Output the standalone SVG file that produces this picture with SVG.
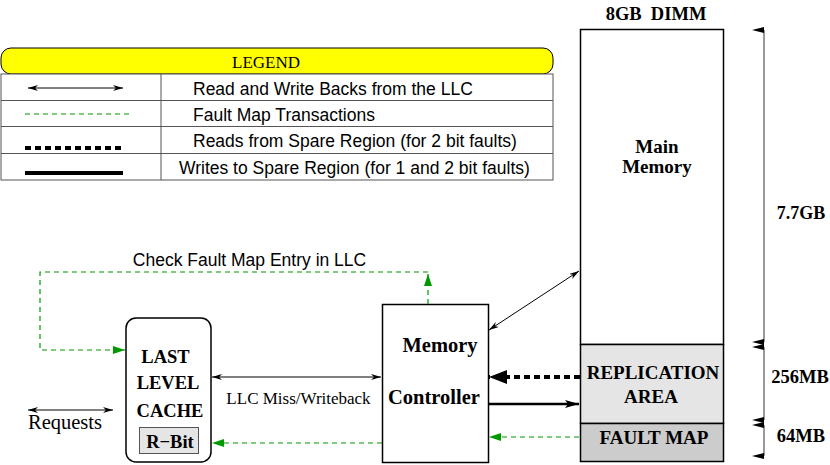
<svg xmlns="http://www.w3.org/2000/svg" width="830" height="465" viewBox="0 0 830 465">
<style>
.ss{font-family:"Liberation Sans",Arial,sans-serif;font-size:17.5px;fill:#000}
.sb{font-family:"Liberation Serif","Times New Roman",serif;font-weight:bold;fill:#000}
.sr{font-family:"Liberation Serif","Times New Roman",serif;fill:#000}
.box{fill:#fff;stroke:#000;stroke-width:1.5}
.thin{stroke:#000;stroke-width:1;fill:none}
.green{stroke:#009900;stroke-width:1.2;stroke-dasharray:5 4;fill:none}
.gray{stroke:#999;stroke-width:2;fill:none}
</style>
<defs>
<marker id="ah" viewBox="0 0 10 6" refX="10" refY="3" markerWidth="10" markerHeight="6" markerUnits="userSpaceOnUse" orient="auto-start-reverse"><path d="M0,0 L10,3 L0,6 L3,3 Z" fill="#000"/></marker>
<marker id="ag" viewBox="0 0 12 8" refX="12" refY="4" markerWidth="12" markerHeight="8" markerUnits="userSpaceOnUse" orient="auto-start-reverse"><path d="M0,0 L12,4 L0,8 Z" fill="#009900"/></marker>
<marker id="ab" viewBox="0 0 18 14" refX="18" refY="7" markerWidth="18" markerHeight="14" markerUnits="userSpaceOnUse" orient="auto"><path d="M0,0 L18,7 L0,14 Z" fill="#000"/></marker>
<marker id="am" viewBox="0 0 14 8" refX="14" refY="4" markerWidth="14" markerHeight="8" markerUnits="userSpaceOnUse" orient="auto"><path d="M0,0 L14,4 L0,8 L3,4 Z" fill="#000"/></marker>
<marker id="ad" viewBox="0 0 6 12" refX="3" refY="0" markerWidth="6" markerHeight="12" markerUnits="userSpaceOnUse" orient="auto"><path d="M0,0 L6,0 L3,12 Z" fill="#000"/></marker>
</defs>

<g id="legend">
<rect x="1" y="48" width="552" height="26" rx="10" fill="#ffff00" stroke="#000" stroke-width="1"/>
<text x="266" y="68" text-anchor="middle" class="sr" style="font-size:17px">LEGEND</text>
<rect x="1" y="74" width="552" height="106" fill="#fff" stroke="#555" stroke-width="1"/>
<line x1="1" y1="100.5" x2="553" y2="100.5" stroke="#555"/>
<line x1="1" y1="126.5" x2="553" y2="126.5" stroke="#555"/>
<line x1="1" y1="153.5" x2="553" y2="153.5" stroke="#555"/>
<line x1="161" y1="74" x2="161" y2="180" stroke="#555"/>
<line x1="28" y1="88" x2="123" y2="88" class="thin" marker-start="url(#ah)" marker-end="url(#ah)"/>
<line x1="25" y1="114" x2="130" y2="114" class="green"/>
<line x1="25" y1="148" x2="124" y2="148" stroke="#000" stroke-width="4" stroke-dasharray="6 4"/>
<line x1="25" y1="173" x2="123" y2="173" stroke="#000" stroke-width="4"/>
<text x="193" y="95" class="ss">Read and Write Backs from the LLC</text>
<text x="193" y="121" class="ss">Fault Map Transactions</text>
<text x="193" y="147" class="ss">Reads from Spare Region (for 2 bit faults)</text>
<text x="179" y="174" class="ss">Writes to Spare Region (for 1 and 2 bit faults)</text>
</g>

<g id="dimm">
<text x="656" y="20" text-anchor="middle" class="sb" style="font-size:18.5px" xml:space="preserve">8GB  DIMM</text>
<rect x="580.5" y="29.5" width="143" height="315" class="box"/>
<rect x="580.5" y="344.5" width="143" height="79" fill="#e5e5e5" stroke="#000" stroke-width="1.5"/>
<rect x="580.5" y="423.5" width="143" height="38" fill="#cccccc" stroke="#000" stroke-width="1.5"/>
<text x="657" y="153" text-anchor="middle" class="sb" style="font-size:19px">Main</text>
<text x="657" y="173" text-anchor="middle" class="sb" style="font-size:19px">Memory</text>
<text x="653" y="379" text-anchor="middle" class="sb" style="font-size:19px">REPLICATION</text>
<text x="651" y="403" text-anchor="middle" class="sb" style="font-size:19px">AREA</text>
<text x="654" y="444" text-anchor="middle" class="sb" style="font-size:19px">FAULT MAP</text>
</g>

<g id="memctrl">
<rect x="382.5" y="304.5" width="106" height="158" class="box"/>
<text x="440" y="352" text-anchor="middle" class="sb" style="font-size:20.5px">Memory</text>
<text x="434" y="404" text-anchor="middle" class="sb" style="font-size:20.5px">Controller</text>
</g>

<g id="llc">
<rect x="126" y="318" width="85" height="144" rx="10" class="box"/>
<text x="165.5" y="363" text-anchor="middle" class="sb" style="font-size:18.5px">LAST</text>
<text x="168" y="389" text-anchor="middle" class="sb" style="font-size:18.5px">LEVEL</text>
<text x="170" y="417" text-anchor="middle" class="sb" style="font-size:18.5px">CACHE</text>
<rect x="139.5" y="427.5" width="59" height="26" fill="#e5e5e5" stroke="#555" stroke-width="1"/>
<text x="170" y="448" text-anchor="middle" class="sb" style="font-size:18.5px">R−Bit</text>
</g>

<g id="labels">
<text x="65" y="429" text-anchor="middle" class="sr" style="font-size:20.5px">Requests</text>
<text x="298.5" y="404" text-anchor="middle" class="sr" style="font-size:17px">LLC Miss/Writeback</text>
<text x="249.5" y="266" text-anchor="middle" class="ss">Check Fault Map Entry in LLC</text>
<text x="801" y="219" text-anchor="middle" class="sb" style="font-size:18px">7.7GB</text>
<text x="800" y="383" text-anchor="middle" class="sb" style="font-size:18.5px">256MB</text>
<text x="801" y="442" text-anchor="middle" class="sb" style="font-size:18.5px">64MB</text>
</g>

<g id="connectors">
<line x1="28" y1="410" x2="113" y2="410" class="thin" marker-start="url(#ah)" marker-end="url(#ah)"/>
<line x1="212" y1="377" x2="381" y2="377" class="thin" marker-start="url(#ah)" marker-end="url(#ah)"/>
<line x1="489" y1="330" x2="579" y2="271" class="thin" marker-start="url(#ah)" marker-end="url(#ah)"/>
<line x1="580" y1="377" x2="489" y2="377" stroke="#000" stroke-width="4" stroke-dasharray="6 4" marker-end="url(#ab)"/>
<line x1="489" y1="404" x2="579" y2="404" stroke="#000" stroke-width="2.5" marker-end="url(#am)"/>
<line x1="579" y1="437" x2="489" y2="437" class="green" marker-end="url(#ag)"/>
<line x1="382" y1="443" x2="212" y2="443" class="green" marker-end="url(#ag)"/>
<line x1="428" y1="304" x2="428" y2="274" class="green" marker-end="url(#ag)"/>
<polyline points="428,272 40,272 40,350 125,350" class="green" marker-end="url(#ag)"/>
<line x1="764" y1="30" x2="764" y2="342" class="gray" marker-start="url(#ad)" marker-end="url(#ad)"/>
<line x1="764" y1="347" x2="764" y2="420" class="gray" marker-start="url(#ad)" marker-end="url(#ad)"/>
<line x1="764" y1="425" x2="764" y2="456" class="gray" marker-start="url(#ad)" marker-end="url(#ad)"/>
</g>
</svg>
